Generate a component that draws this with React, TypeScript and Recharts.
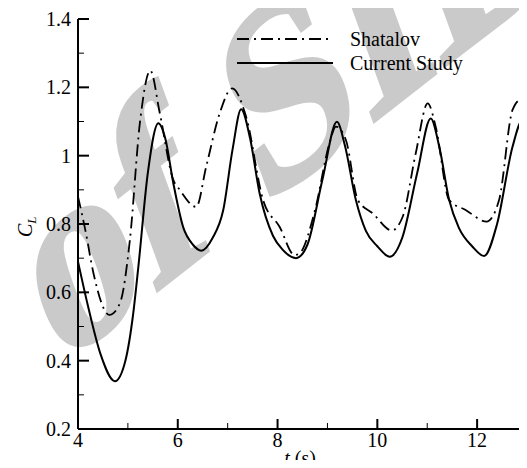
import React from "react"
import { LineChart, Line, XAxis, YAxis } from "recharts"

// Shatalov (dash-dot)
const shatalovT = [4.0, 4.15, 4.31, 4.63, 4.84, 5.04, 5.24, 5.45, 5.64, 5.91, 6.04, 6.37, 6.57, 6.84, 7.09, 7.37, 7.71, 8.04, 8.34, 8.44, 8.75, 9.04, 9.17, 9.37, 9.61, 9.91, 10.29, 10.51, 10.77, 11.01, 11.17, 11.44, 11.77, 12.19, 12.44, 12.71, 12.87, 13.0]
const shatalovC = [0.88, 0.78, 0.656, 0.534, 0.568, 0.753, 1.095, 1.249, 1.124, 0.929, 0.9, 0.85, 0.968, 1.124, 1.197, 1.114, 0.87, 0.792, 0.709, 0.714, 0.84, 1.036, 1.085, 1.046, 0.87, 0.831, 0.781, 0.822, 1.007, 1.153, 1.085, 0.87, 0.841, 0.807, 0.87, 1.134, 1.163, 1.15]

// Current study (solid)
const currentT = [4.0, 4.2, 4.45, 4.74, 4.95, 5.1, 5.21, 5.4, 5.61, 5.75, 5.91, 6.11, 6.3, 6.47, 6.7, 6.91, 7.1, 7.27, 7.45, 7.64, 7.91, 8.1, 8.37, 8.6, 8.9, 9.19, 9.35, 9.57, 9.77, 10.0, 10.25, 10.5, 10.8, 11.07, 11.25, 11.44, 11.64, 11.9, 12.14, 12.4, 12.71, 12.91, 13.0]
const currentC = [0.69, 0.56, 0.42, 0.34, 0.4, 0.53, 0.675, 0.95, 1.095, 1.05, 0.92, 0.79, 0.74, 0.722, 0.76, 0.84, 1.02, 1.136, 1.05, 0.89, 0.765, 0.725, 0.7, 0.74, 0.93, 1.099, 1.03, 0.87, 0.78, 0.735, 0.704, 0.76, 0.95, 1.109, 1.02, 0.87, 0.787, 0.735, 0.706, 0.8, 1.026, 1.104, 1.1]

const xTicks = [4, 5, 6, 7, 8, 9, 10, 11, 12]
const xLabels = ["4", "", "6", "", "8", "", "10", "", "12"]
const yTicks = [0.2, 0.3, 0.4, 0.5, 0.6, 0.7, 0.8, 0.9, 1.0, 1.1, 1.2, 1.3, 1.4]
const yLabels = ["0.2", "", "0.4", "", "0.6", "", "0.8", "", "1", "", "1.2", "", "1.4"]

const FONT = "Liberation Serif"
const txt = { fontFamily: FONT, fontSize: 20, fill: "#000" }

const shatalovData = shatalovT.map((t, i) => ({ t, c: shatalovC[i] }))
const currentData = currentT.map((t, i) => ({ t, c: currentC[i] }))

const XTick = (props: any) => {
  const { x, y, index } = props
  const major = xLabels[index] !== ""
  return (
    <g>
      <line x1={x} y1={y} x2={x} y2={y - (major ? 10 : 6)} stroke="#000" strokeWidth={major ? 2 : 1} />
      {major && (
        <text x={x} y={y + 18} textAnchor="middle" style={txt}>
          {xLabels[index]}
        </text>
      )}
    </g>
  )
}

const YTick = (props: any) => {
  const { x, y, index } = props
  const major = yLabels[index] !== ""
  return (
    <g>
      <line x1={x} y1={y} x2={x + (major ? 11 : 6)} y2={y} stroke="#000" strokeWidth={major ? 2 : 1} />
      {major && (
        <text x={x - 7} y={y + 7} textAnchor="end" style={txt}>
          {yLabels[index]}
        </text>
      )}
    </g>
  )
}

export default function App() {
  return (
    <div style={{ position: "relative", width: 527, height: 468, margin: -8, overflow: "hidden", background: "#fff" }}>
      {/* watermark */}
      <svg width={527} height={468} style={{ position: "absolute", left: 0, top: 0 }}>
        <text
          transform="translate(58,368) rotate(-38) skewX(-18)"
          style={{
            fontFamily: FONT,
            fontSize: 240,
            fontWeight: "bold",
            fill: "#cacaca",
            stroke: "#cacaca",
            strokeWidth: 4,
          }}
        >
          of SID
        </text>
      </svg>
      <div style={{ position: "absolute", left: 0, top: 0 }}>
        <LineChart width={527} height={468} margin={{ top: 19, right: 0, bottom: 0, left: 0 }}>
          <XAxis
            dataKey="t"
            type="number"
            domain={[4, 13]}
            ticks={xTicks}
            interval={0}
            height={39}
            tickSize={0}
            tickMargin={0}
            tickLine={false}
            axisLine={{ stroke: "#000", strokeWidth: 2 }}
            tick={<XTick />}
          />
          <YAxis
            dataKey="c"
            type="number"
            domain={[0.2, 1.4]}
            ticks={yTicks}
            interval={0}
            width={78}
            tickSize={0}
            tickMargin={0}
            tickLine={false}
            axisLine={{ stroke: "#000", strokeWidth: 2 }}
            tick={<YTick />}
          />
          <Line
            data={shatalovData}
            dataKey="c"
            type="monotone"
            stroke="#000"
            strokeWidth={1.8}
            strokeDasharray="12 5 2 5"
            dot={false}
            isAnimationActive={false}
          />
          <Line
            data={currentData}
            dataKey="c"
            type="monotone"
            stroke="#000"
            strokeWidth={2}
            dot={false}
            isAnimationActive={false}
          />
        </LineChart>
      </div>
      {/* legend and axis titles */}
      <svg width={527} height={468} style={{ position: "absolute", left: 0, top: 0, pointerEvents: "none" }}>
        <line x1={237} y1={39} x2={333} y2={39} stroke="#000" strokeWidth={1.8} strokeDasharray="12 5 2 5" />
        <text x={350} y={46} style={txt}>Shatalov</text>
        <line x1={237} y1={63} x2={333} y2={63} stroke="#000" strokeWidth={2} />
        <text x={350} y={70} style={txt}>Current Study</text>
        <text x={300} y={465} textAnchor="middle" style={txt}>
          <tspan fontStyle="italic">t</tspan> (s)
        </text>
        <text transform="translate(32,237) rotate(-90)" style={{ ...txt, fontStyle: "italic" }}>
          C<tspan style={{ fontSize: 13 }} dy={4}>L</tspan>
        </text>
      </svg>
    </div>
  )
}
